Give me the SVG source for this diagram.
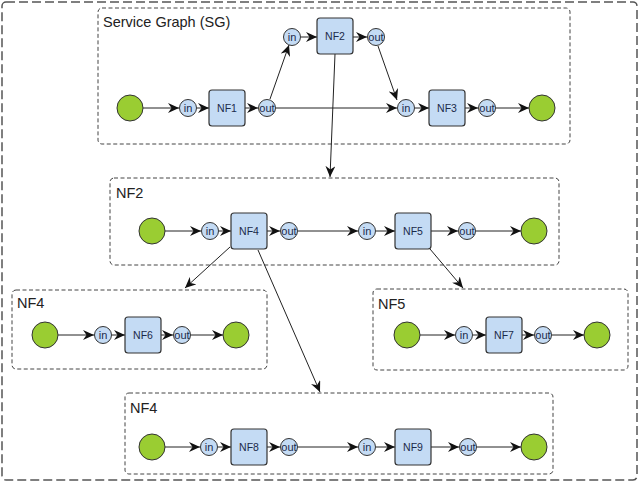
<svg xmlns="http://www.w3.org/2000/svg" width="640" height="483" viewBox="0 0 640 483">
<style>
.outer{fill:none;stroke:#555;stroke-width:1.5;stroke-dasharray:9,4}
.cont{fill:none;stroke:#444;stroke-width:1;stroke-dasharray:4,2.5}
.clab{font-family:"Liberation Sans",Arial,sans-serif;font-size:14.5px;fill:#222}
.ep{fill:#9ACD32;stroke:#333;stroke-width:1}
.port{fill:#C4DBF4;stroke:#333;stroke-width:1}
.nf{fill:#C4DBF4;stroke:#333;stroke-width:1.2}
.pt{font-family:"Liberation Sans",Arial,sans-serif;font-size:11px;fill:#1b2a4a;text-anchor:middle}
.nt{font-family:"Liberation Sans",Arial,sans-serif;font-size:10.5px;fill:#1b2a4a;text-anchor:middle}
.e{fill:none;stroke:#222;stroke-width:1;marker-end:url(#arr)}
</style>
<defs>
<marker id="arr" markerUnits="userSpaceOnUse" markerWidth="12" markerHeight="10" refX="11" refY="5" orient="auto">
<path d="M0,0 L11,5 L0,10 L3.5,5 z" fill="#111"/>
</marker>
</defs>
<rect class="outer" x="2" y="2" width="635" height="478" rx="4"/>

<g id="sg">
<rect class="cont" x="98" y="8" width="472" height="136" rx="4"/>
<text class="clab" x="103" y="27">Service Graph (SG)</text>
</g>
<g id="c_nf2"><rect class="cont" x="110" y="178" width="449" height="87" rx="4"/><text class="clab" x="116" y="198">NF2</text></g>
<g id="c_nf4a"><rect class="cont" x="12" y="290" width="255" height="79" rx="4"/><text class="clab" x="17" y="308">NF4</text></g>
<g id="c_nf5"><rect class="cont" x="373" y="289" width="255" height="81" rx="4"/><text class="clab" x="378" y="309">NF5</text></g>
<g id="c_nf4b"><rect class="cont" x="125" y="393" width="428" height="81" rx="4"/><text class="clab" x="130" y="413">NF4</text></g>

<g id="connectors">
<!-- SG -->
<line class="e" x1="143" y1="108" x2="179" y2="108"/>
<line class="e" x1="197" y1="108" x2="209" y2="108"/>
<line class="e" x1="245" y1="108" x2="258" y2="108"/>
<line class="e" x1="276" y1="108" x2="397" y2="108"/>
<line class="e" x1="270" y1="99" x2="289" y2="45"/>
<line class="e" x1="301" y1="37" x2="317" y2="37"/>
<line class="e" x1="353" y1="37" x2="367" y2="37"/>
<line class="e" x1="378" y1="46" x2="397" y2="100"/>
<line class="e" x1="415" y1="108" x2="429" y2="108"/>
<line class="e" x1="465" y1="108" x2="478" y2="108"/>
<line class="e" x1="496" y1="108" x2="529" y2="108"/>
<line class="e" x1="335" y1="54" x2="330" y2="177"/>
<!-- NF2 -->
<line class="e" x1="165" y1="231" x2="201" y2="231"/>
<line class="e" x1="219" y1="231" x2="231" y2="231"/>
<line class="e" x1="267" y1="231" x2="280" y2="231"/>
<line class="e" x1="298" y1="231" x2="358" y2="231"/>
<line class="e" x1="376" y1="231" x2="395" y2="231"/>
<line class="e" x1="431" y1="231" x2="458" y2="231"/>
<line class="e" x1="476" y1="231" x2="521" y2="231"/>
<line class="e" x1="230" y1="247" x2="185" y2="288"/>
<line class="e" x1="258" y1="250" x2="320" y2="392"/>
<line class="e" x1="430" y1="249" x2="463" y2="288"/>
<!-- NF4 a -->
<line class="e" x1="58" y1="335" x2="94" y2="335"/>
<line class="e" x1="112" y1="335" x2="125" y2="335"/>
<line class="e" x1="161" y1="335" x2="173" y2="335"/>
<line class="e" x1="191" y1="335" x2="223" y2="335"/>
<!-- NF5 -->
<line class="e" x1="420" y1="335" x2="455" y2="335"/>
<line class="e" x1="473" y1="335" x2="486" y2="335"/>
<line class="e" x1="522" y1="335" x2="534" y2="335"/>
<line class="e" x1="552" y1="335" x2="584" y2="335"/>
<!-- NF4 b -->
<line class="e" x1="165" y1="447" x2="200" y2="447"/>
<line class="e" x1="218" y1="447" x2="231" y2="447"/>
<line class="e" x1="267" y1="447" x2="280" y2="447"/>
<line class="e" x1="298" y1="447" x2="358" y2="447"/>
<line class="e" x1="376" y1="447" x2="395" y2="447"/>
<line class="e" x1="431" y1="447" x2="459" y2="447"/>
<line class="e" x1="477" y1="447" x2="521" y2="447"/>
</g>

<!-- SG nodes -->
<g id="sg_start"><circle class="ep" cx="130" cy="108" r="13"/></g>
<g id="sg_nf1_in"><circle class="port" cx="188" cy="108" r="8.5"/><text class="pt" x="188" y="112">in</text></g>
<g id="sg_nf1"><rect class="nf" x="209" y="90" width="36" height="36" rx="3"/><text class="nt" x="227" y="112">NF1</text></g>
<g id="sg_nf1_out"><circle class="port" cx="267" cy="108" r="8.5"/><text class="pt" x="267" y="112">out</text></g>
<g id="sg_nf2_in"><circle class="port" cx="292" cy="37" r="8.5"/><text class="pt" x="292" y="41">in</text></g>
<g id="sg_nf2"><rect class="nf" x="317" y="18" width="36" height="36" rx="3"/><text class="nt" x="335" y="40">NF2</text></g>
<g id="sg_nf2_out"><circle class="port" cx="376" cy="37" r="8.5"/><text class="pt" x="376" y="41">out</text></g>
<g id="sg_nf3_in"><circle class="port" cx="406" cy="108" r="8.5"/><text class="pt" x="406" y="112">in</text></g>
<g id="sg_nf3"><rect class="nf" x="429" y="90" width="36" height="36" rx="3"/><text class="nt" x="447" y="112">NF3</text></g>
<g id="sg_nf3_out"><circle class="port" cx="487" cy="108" r="8.5"/><text class="pt" x="487" y="112">out</text></g>
<g id="sg_end"><circle class="ep" cx="542" cy="108" r="13"/></g>

<!-- NF2 nodes -->
<g id="nf2_start"><circle class="ep" cx="152" cy="231" r="13"/></g>
<g id="nf2_nf4_in"><circle class="port" cx="210" cy="231" r="8.5"/><text class="pt" x="210" y="235">in</text></g>
<g id="nf2_nf4"><rect class="nf" x="231" y="213" width="36" height="36" rx="3"/><text class="nt" x="249" y="235">NF4</text></g>
<g id="nf2_nf4_out"><circle class="port" cx="289" cy="231" r="8.5"/><text class="pt" x="289" y="235">out</text></g>
<g id="nf2_nf5_in"><circle class="port" cx="367" cy="231" r="8.5"/><text class="pt" x="367" y="235">in</text></g>
<g id="nf2_nf5"><rect class="nf" x="395" y="213" width="36" height="36" rx="3"/><text class="nt" x="413" y="235">NF5</text></g>
<g id="nf2_nf5_out"><circle class="port" cx="467" cy="231" r="8.5"/><text class="pt" x="467" y="235">out</text></g>
<g id="nf2_end"><circle class="ep" cx="534" cy="231" r="13"/></g>

<!-- NF4 (left) nodes -->
<g id="nf4a_start"><circle class="ep" cx="45" cy="335" r="13"/></g>
<g id="nf4a_nf6_in"><circle class="port" cx="103" cy="335" r="8.5"/><text class="pt" x="103" y="339">in</text></g>
<g id="nf4a_nf6"><rect class="nf" x="125" y="317" width="36" height="36" rx="3"/><text class="nt" x="143" y="339">NF6</text></g>
<g id="nf4a_nf6_out"><circle class="port" cx="182" cy="335" r="8.5"/><text class="pt" x="182" y="339">out</text></g>
<g id="nf4a_end"><circle class="ep" cx="236" cy="335" r="13"/></g>

<!-- NF5 nodes -->
<g id="nf5_start"><circle class="ep" cx="407" cy="335" r="13"/></g>
<g id="nf5_nf7_in"><circle class="port" cx="464" cy="335" r="8.5"/><text class="pt" x="464" y="339">in</text></g>
<g id="nf5_nf7"><rect class="nf" x="486" y="317" width="36" height="36" rx="3"/><text class="nt" x="504" y="339">NF7</text></g>
<g id="nf5_nf7_out"><circle class="port" cx="543" cy="335" r="8.5"/><text class="pt" x="543" y="339">out</text></g>
<g id="nf5_end"><circle class="ep" cx="597" cy="335" r="13"/></g>

<!-- NF4 (bottom) nodes -->
<g id="nf4b_start"><circle class="ep" cx="152" cy="447" r="13"/></g>
<g id="nf4b_nf8_in"><circle class="port" cx="209" cy="447" r="8.5"/><text class="pt" x="209" y="451">in</text></g>
<g id="nf4b_nf8"><rect class="nf" x="231" y="429" width="36" height="36" rx="3"/><text class="nt" x="249" y="451">NF8</text></g>
<g id="nf4b_nf8_out"><circle class="port" cx="289" cy="447" r="8.5"/><text class="pt" x="289" y="451">out</text></g>
<g id="nf4b_nf9_in"><circle class="port" cx="367" cy="447" r="8.5"/><text class="pt" x="367" y="451">in</text></g>
<g id="nf4b_nf9"><rect class="nf" x="395" y="429" width="36" height="36" rx="3"/><text class="nt" x="413" y="451">NF9</text></g>
<g id="nf4b_nf9_out"><circle class="port" cx="468" cy="447" r="8.5"/><text class="pt" x="468" y="451">out</text></g>
<g id="nf4b_end"><circle class="ep" cx="534" cy="447" r="13"/></g>
</svg>
